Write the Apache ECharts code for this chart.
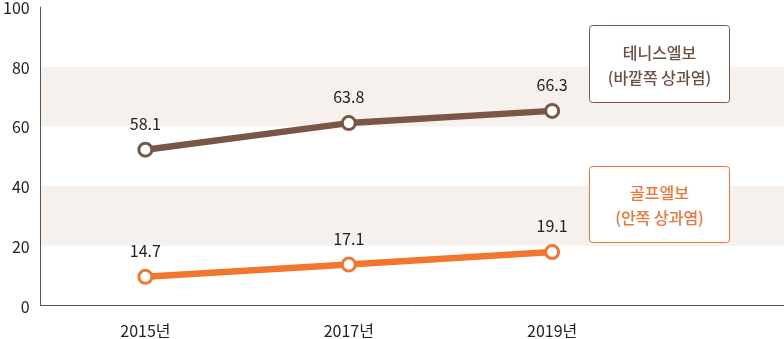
<!DOCTYPE html>
<html>
<head>
<meta charset="utf-8">
<script src="https://cdn.jsdelivr.net/npm/echarts@6/dist/echarts.min.js"></script>
<style>
html,body{margin:0;padding:0;background:#fff;}
#chart{width:784px;height:339px;}
</style>
</head>
<body>
<div id="chart"></div>
<script>
// Data
const years = [2015, 2017, 2019];
const yearLabels = ['2015년', '2017년', '2019년'];
const yTicks = [0, 20, 40, 60, 80, 100];
const tennisName = '테니스엘보\n(바깥쪽 상과염)';
const golfName = '골프엘보\n(안쪽 상과염)';
// positions as drawn in the picture
const tennisPlot = [52.2, 61.1, 65.2];
const golfPlot = [9.6, 13.7, 17.9];
// value labels printed in the picture
const tennisLabels = ['58.1', '63.8', '66.3'];
const golfLabels = ['14.7', '17.1', '19.1'];

const FONT = '"Noto Sans CJK KR", "Noto Sans", sans-serif';
const BROWN = '#7a5646';
const ORANGE = '#f3762f';

function makeSeries(name, vals, labels, color) {
  return {
    type: 'line',
    name: name,
    data: years.map((y, i) => [y, vals[i]]),
    lineStyle: { color: color, width: 6.5 },
    itemStyle: { color: '#fff', borderColor: color, borderWidth: 3 },
    symbol: 'circle',
    symbolSize: 13,
    showAllSymbol: true,
    label: {
      show: true,
      position: 'top',
      distance: 10,
      color: '#222',
      fontSize: 16,
      fontFamily: FONT,
      formatter: p => labels[p.dataIndex]
    },
    z: 3
  };
}

const chart = echarts.init(document.getElementById('chart'), null, { renderer: 'canvas' });
chart.setOption({
  animation: false,
  backgroundColor: '#fff',
  grid: { left: 37, right: 0, top: 5, bottom: 33.5, containLabel: false },
  xAxis: {
    type: 'value',
    min: 2013.97,
    max: 2021.28,
    axisLine: { show: true, lineStyle: { color: '#555', width: 1 } },
    axisTick: { show: false },
    splitLine: { show: false },
    axisLabel: {
      customValues: years,
      formatter: v => yearLabels[years.indexOf(v)] || '',
      color: '#222',
      fontSize: 16,
      fontFamily: FONT,
      margin: 17
    }
  },
  yAxis: {
    type: 'value',
    min: 0,
    max: 100,
    interval: 20,
    axisLine: { show: true, lineStyle: { color: '#555', width: 1 } },
    axisTick: { show: false },
    splitLine: { show: false },
    splitArea: { show: true, areaStyle: { color: ['rgba(0,0,0,0)', '#f6f1ec'] } },
    axisLabel: {
      formatter: v => (yTicks.indexOf(v) >= 0 ? String(v) : ''),
      color: '#222',
      fontSize: 16,
      fontFamily: FONT,
      margin: 11,
      verticalAlign: 'top',
      padding: [-7, 0, 0, 0]
    }
  },
  series: [
    makeSeries('테니스엘보', tennisPlot, tennisLabels, BROWN),
    makeSeries('골프엘보', golfPlot, golfLabels, ORANGE)
  ],
  graphic: [
    {
      type: 'group', left: 589, top: 25, z: 100,
      children: [
        { type: 'rect', z: 100, shape: { x: 0, y: 0, width: 140, height: 77, r: 3 },
          style: { fill: '#fff', stroke: BROWN, lineWidth: 1 } },
        { type: 'text', z: 101, x: 70, y: 39.5,
          style: { text: tennisName, fill: '#6e5042', font: '500 16px ' + FONT,
                   align: 'center', verticalAlign: 'middle', lineHeight: 25 } }
      ]
    },
    {
      type: 'group', left: 589, top: 166, z: 100,
      children: [
        { type: 'rect', z: 100, shape: { x: 0, y: 0, width: 140, height: 76, r: 3 },
          style: { fill: '#fff', stroke: ORANGE, lineWidth: 1 } },
        { type: 'text', z: 101, x: 70, y: 39,
          style: { text: golfName, fill: '#f07433', font: '500 16px ' + FONT,
                   align: 'center', verticalAlign: 'middle', lineHeight: 25 } }
      ]
    }
  ]
});
</script>
</body>
</html>
